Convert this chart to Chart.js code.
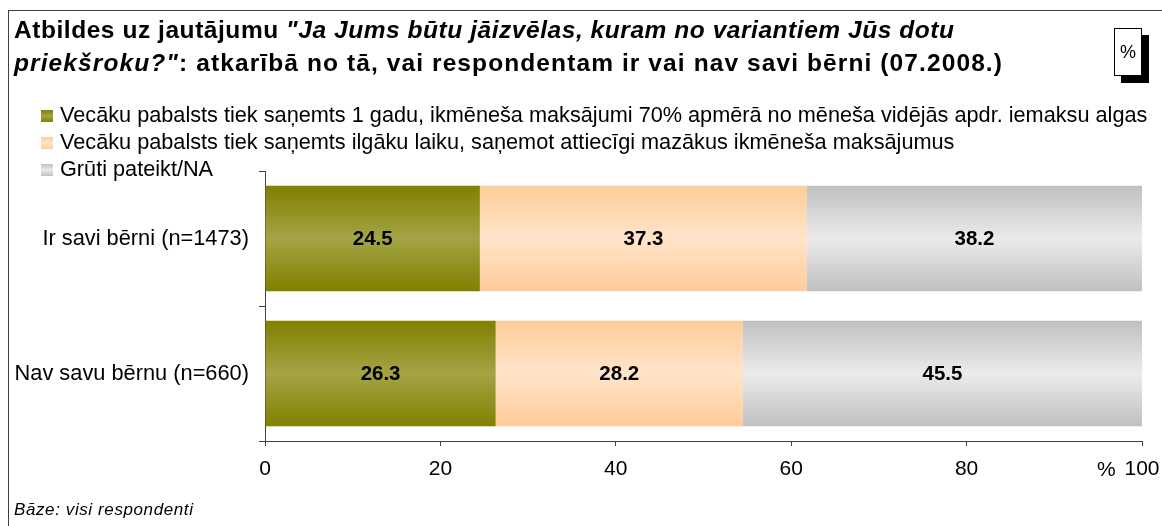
<!DOCTYPE html>
<html>
<head>
<meta charset="utf-8">
<script src="https://cdn.jsdelivr.net/npm/chart.js@4.4.0/dist/chart.umd.min.js"></script>
<style>
  body { margin: 0; background: #fff; font-family: "Liberation Sans", Arial, sans-serif; }
  #wrap { position: relative; width: 1162px; height: 526px; overflow: hidden; }
  #frame { position: absolute; left: 8px; top: 10px; width: 1200px; height: 600px;
           border-left: 1px solid #404040; border-top: 1px solid #404040; }
  #title { position: absolute; left: 14px; top: 13px; font-size: 24.5px; font-weight: bold;
           line-height: 33px; color: #000; white-space: nowrap; }
  #l1 { letter-spacing: 0.55px; }
  #l2 { letter-spacing: 1.1px; }
  #pct { position: absolute; left: 1114px; top: 28px; width: 26px; height: 46px;
         border: 1px solid #000; background: #fff; box-shadow: 7px 7px 0 #000;
         font-size: 18px; text-align: center; line-height: 46px; }
  #legend { position: absolute; left: 41px; top: 101px; font-size: 21.7px; color: #000; }
  .item { height: 27px; line-height: 27px; white-space: nowrap; }
  .sw { display: inline-block; width: 12px; height: 12px; margin-right: 7px; vertical-align: 0px; }
  #pctx { position: absolute; left: 1097px; top: 457px; font-size: 21px; }
  #base { position: absolute; left: 14px; top: 500px; font-size: 17px; font-style: italic; letter-spacing: 0.6px; }
  canvas { position: absolute; left: 0; top: 0; }
</style>
</head>
<body>
<div id="wrap">
  <div id="frame"></div>
  <canvas id="grafico" width="1162" height="526"></canvas>
  <div id="title"><span id="l1">Atbildes uz jautājumu <i>"Ja Jums būtu jāizvēlas, kuram no variantiem Jūs dotu</i></span><br><span id="l2"><i>priekšroku?"</i>: atkarībā no tā, vai respondentam ir vai nav savi bērni (07.2008.)</span></div>
  <div id="pct">%</div>
  <div id="legend"></div>
  <div id="pctx">%</div>
  <div id="base">Bāze: visi respondenti</div>
</div>
<script>
const kategorijas = ["Ir savi bērni (n=1473)", "Nav savu bērnu (n=660)"];
const sērijas = [
  "Vecāku pabalsts tiek saņemts 1 gadu, ikmēneša maksājumi 70% apmērā no mēneša vidējās apdr. iemaksu algas",
  "Vecāku pabalsts tiek saņemts ilgāku laiku, saņemot attiecīgi mazākus ikmēneša maksājumus",
  "Grūti pateikt/NA"
];
const viensGads = [24.5, 26.3];
const ilgākLaiku = [37.3, 28.2];
const grūtiPateikt = [38.2, 45.5];
const xTicks = [0, 20, 40, 60, 80, 100];

const krāsas = [
  { mala: "#808000", vidus: "#A4A445" },
  { mala: "#FFCC99", vidus: "#FFE4CA" },
  { mala: "#C0C0C0", vidus: "#EBEBEB" }
];
const stabiņaDaļa = 0.78;
const fonts = '"Liberation Sans", Arial, sans-serif';

function gradients(ctxScript, k) {
  const chart = ctxScript.chart;
  const y = chart.scales && chart.scales.y;
  if (!chart.chartArea || !y) return k.mala;
  const centrs = y.getPixelForValue(ctxScript.dataIndex);
  const puse = (chart.chartArea.height / kategorijas.length) * stabiņaDaļa / 2;
  const g = chart.ctx.createLinearGradient(0, centrs - puse, 0, centrs + puse);
  g.addColorStop(0, k.mala);
  g.addColorStop(0.5, k.vidus);
  g.addColorStop(1, k.mala);
  return g;
}

// leģenda HTML
const legend = document.getElementById("legend");
sērijas.forEach((nosaukums, i) => {
  const div = document.createElement("div");
  div.className = "item";
  div.innerHTML = `<span class="sw" style="background:linear-gradient(${krāsas[i].mala},${krāsas[i].vidus},${krāsas[i].mala})"></span>${nosaukums}`;
  legend.appendChild(div);
});

const vērtībuUzraksti = {
  id: "vertibuUzraksti",
  afterDatasetsDraw(chart) {
    const ctx = chart.ctx;
    ctx.save();
    ctx.font = "bold 20.5px " + fonts;
    ctx.fillStyle = "#000";
    ctx.textAlign = "center";
    ctx.textBaseline = "middle";
    chart.data.datasets.forEach((ds, i) => {
      chart.getDatasetMeta(i).data.forEach((bar, j) => {
        const p = bar.getProps(["x", "y", "base"], true);
        ctx.fillText(ds.data[j].toFixed(1), (p.x + p.base) / 2, p.y + 1);
      });
    });
    ctx.restore();
  }
};

const datiSērijas = [viensGads, ilgākLaiku, grūtiPateikt];

new Chart(document.getElementById("grafico").getContext("2d"), {
  type: "bar",
  data: {
    labels: kategorijas,
    datasets: datiSērijas.map((d, i) => ({
      label: sērijas[i],
      data: d,
      backgroundColor: (c) => gradients(c, krāsas[i]),
      borderWidth: 0,
      categoryPercentage: 1,
      barPercentage: stabiņaDaļa
    }))
  },
  options: {
    indexAxis: "y",
    responsive: false,
    animation: false,
    devicePixelRatio: 1,
    layout: { padding: { left: 0, right: 20, top: 171, bottom: 35 } },
    plugins: { legend: { display: false }, tooltip: { enabled: false } },
    scales: {
      x: {
        stacked: true,
        min: 0,
        max: 100,
        afterBuildTicks: (s) => { s.ticks = xTicks.map((v) => ({ value: v })); },
        afterFit: (s) => { s.height = 50; s.paddingLeft = 0; s.paddingRight = 0; },
        ticks: { color: "#000", font: { size: 21, family: fonts }, padding: 11, maxRotation: 0 },
        grid: { drawOnChartArea: false, tickLength: 5, color: "#404040" },
        border: { color: "#404040" }
      },
      y: {
        stacked: true,
        afterFit: (s) => { s.width = 265; },
        ticks: { color: "#000", font: { size: 21.8, family: fonts }, padding: 10 },
        grid: { drawOnChartArea: false, offset: true, tickLength: 6, color: "#404040" },
        border: { color: "#404040" }
      }
    }
  },
  plugins: [vērtībuUzraksti]
});
</script>
</body>
</html>
